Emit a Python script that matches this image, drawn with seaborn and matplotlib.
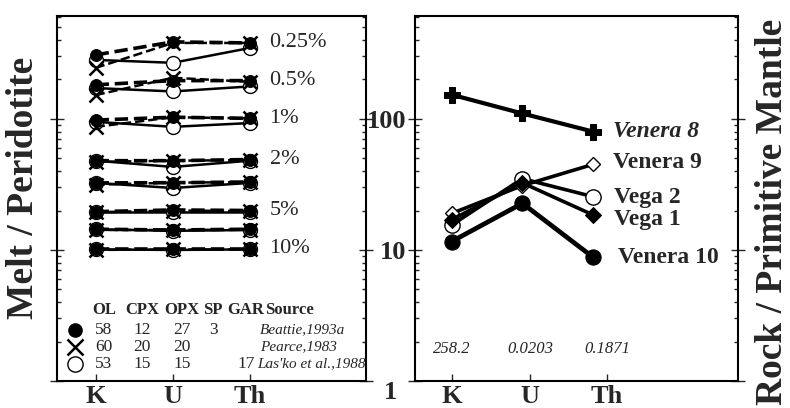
import matplotlib
matplotlib.use("Agg")
import matplotlib.pyplot as plt
import seaborn as sns
import pandas as pd
from matplotlib.ticker import LogLocator, NullFormatter, FixedLocator, FuncFormatter

sns.set_style("ticks")
plt.rcParams['font.family'] = ['Liberation Serif', 'DejaVu Serif']

# ---------------- data ----------------
elements = ["K", "U", "Th"]
melt_degrees = ["0.25%", "0.5%", "1%", "2%", "3%", "5%", "7%", "10%"]
melt_shown = ["0.25%", "0.5%", "1%", "2%", "5%", "10%"]

# Melt / Peridotite for each melting degree (rows) at K, U, Th
beattie = [[308, 387, 380], [182, 196, 196], [98, 103, 101], [48, 48, 49],
           [32.5, 32.6, 33], [19.6, 20.2, 20], [14.4, 14.2, 14.4], [10.2, 10.2, 10.2]]
pearce = [[245, 380, 380], [152, 206, 192], [87, 103, 101], [47, 48, 48.5],
          [31.5, 32.6, 33], [19.4, 20, 19.8], [14.2, 14.2, 14.3], [10, 10.1, 10.1]]
lasko = [[282, 268, 348], [172, 162, 177], [95, 87, 93], [48, 43, 48],
         [32.5, 29.7, 32.5], [19.6, 19.6, 19.6], [14.4, 14.0, 14.2], [10.1, 10, 10.1]]

table_header = ["OL", "CPX", "OPX", "SP", "GAR", "Source"]
beattie_mode = ["58", "12", "27", "3", ""]
pearce_mode = ["60", "20", "20", "", ""]
lasko_mode = ["53", "15", "15", "", "17"]
sources = ["Beattie,1993a", "Pearce,1983", "Las'ko et al.,1988"]

# Rock / Primitive Mantle
samples = ["Venera 8", "Venera 9", "Vega 2", "Vega 1", "Venera 10"]
venera8 = [153, 110, 80]
venera9 = [19, 31, 45]
vega2 = [15.5, 35, 25.5]
vega1 = [17, 32.5, 18.5]
venera10 = [11.6, 22.7, 8.8]
pm_values = ["258.2", "0.0203", "0.1871"]

# ---------------- figure ----------------
W, H = 790, 408
fig = plt.figure(figsize=(W / 100, H / 100), dpi=100)
ax1 = fig.add_axes([57 / W, 27 / H, 309 / W, 365 / H])
ax2 = fig.add_axes([415 / W, 27 / H, 323 / W, 365 / H])

xpos = list(range(len(elements)))

# left panel
st_beattie = dict(marker="o", mfc="black", mec="black", ms=8.5, ls="--", lw=2.6, color="black")
st_pearce = dict(marker="x", mfc="none", mec="black", ms=10, mew=1.8, ls="--", lw=1.8, color="black")
st_lasko = dict(marker="o", mfc="white", mec="black", ms=10, mew=1.0, ls="-", lw=1.8, color="black")
for series, st in zip([lasko, pearce, beattie], [st_lasko, st_pearce, st_beattie]):
    for row in series:
        df = pd.DataFrame({"x": xpos, "y": row})
        sns.lineplot(data=df, x="x", y="y", ax=ax1, **st)

for lab in melt_shown:
    i = melt_degrees.index(lab)
    yv = max(beattie[i][2], pearce[i][2], lasko[i][2])
    ax1.annotate(lab, (xpos[-1], yv), xytext=(14, 0), textcoords="offset points",
                 fontsize=16, va="center", ha="left")

# legend table (axes-fraction helpers from pixel layout)
def fx(px):
    return (px - 57) / 309

def fy(py):
    return (381 - py) / 365

col_x = [104, 142, 182, 213, 246]
for h, x in zip(table_header[:5], col_x):
    ax1.text(fx(x), fy(310), h, transform=ax1.transAxes, ha="center", va="center",
             fontsize=12, fontweight="bold")
ax1.text(fx(265), fy(310), table_header[5], transform=ax1.transAxes, ha="left",
         va="center", fontsize=12, fontweight="bold")
row_y = [330, 347, 364]
src_x = [260, 260, 257]
legend_markers = [st_beattie, st_pearce, st_lasko]
for mode, src, ry, sx, st in zip([beattie_mode, pearce_mode, lasko_mode], sources,
                                 row_y, src_x, legend_markers):
    ax1.plot([fx(75)], [fy(ry)], transform=ax1.transAxes, clip_on=False,
             marker=st["marker"], mfc=st["mfc"], mec="black",
             ms=st["ms"] + 1, mew=st.get("mew", 1.0), ls="none")
    for val, x in zip(mode, col_x):
        if val:
            ax1.text(fx(x), fy(ry), val, transform=ax1.transAxes, ha="center",
                     va="center", fontsize=12.5)
    ax1.text(fx(sx), fy(ry), src, transform=ax1.transAxes, ha="left", va="center",
             fontsize=11, style="italic", clip_on=True)

# right panel
venus_series = [venera8, venera9, vega2, vega1, venera10]
venus_styles = [
    dict(marker="P", mfc="black", mec="black", ms=11, lw=3.0),
    dict(marker="D", mfc="white", mec="black", ms=7, mew=1.0, lw=2.6),
    dict(marker="o", mfc="white", mec="black", ms=11, mew=1.0, lw=2.6),
    dict(marker="D", mfc="black", mec="black", ms=8, lw=2.6),
    dict(marker="o", mfc="black", mec="black", ms=11, lw=3.4),
]
label_style = ["italic", "normal", "normal", "normal", "normal"]
label_shift = [1.0, 1.04, 0.98, 0.92, 1.0]
label_dx = [14, 14, 15, 15, 18]
for name, vals, st, lst, sh, dx in zip(samples, venus_series, venus_styles,
                                       label_style, label_shift, label_dx):
    df = pd.DataFrame({"x": xpos, "y": vals})
    sns.lineplot(data=df, x="x", y="y", ax=ax2, color="black", ls="-", **st)
    ax2.annotate(name, (xpos[-1], vals[-1] * sh), xytext=(dx, 0),
                 textcoords="offset points", fontsize=17, fontweight="bold",
                 style=lst, va="center", ha="left")

# ---------------- axes styling ----------------
for ax in (ax1, ax2):
    ax.set_yscale("log")
    ax.set_ylim(1, 610)
    ax.set_xlabel("")
    ax.set_ylabel("")
    for sp in ax.spines.values():
        sp.set_visible(True)
        sp.set_linewidth(1.5)
        sp.set_color("black")
    ax.yaxis.set_major_locator(FixedLocator([1, 10, 100]))
    ax.yaxis.set_minor_locator(LogLocator(base=10, subs=range(2, 10)))
    ax.yaxis.set_minor_formatter(NullFormatter())
    ax.tick_params(axis="y", which="minor", direction="in", length=3, width=1,
                   left=True, right=True)
    ax.tick_params(axis="x", which="major", direction="in", length=5, width=1,
                   bottom=True, top=False, pad=3, labelsize=19)
    ax.set_facecolor("white")

ax1.set_xlim(-0.5, 3.5)
ax1.set_xticks(xpos)
ax1.set_xticklabels(elements, fontweight="bold")
ax1.tick_params(axis="y", which="major", direction="inout", length=10, width=1,
                left=True, right=True, labelleft=False, labelright=False)

ax2.set_xlim(-0.519, 4.05)
tick_pos = [0, 1.107, 2.197]
ax2.set_xticks(tick_pos)
ax2.set_xticklabels(elements, fontweight="bold")
ax2.tick_params(axis="y", which="major", direction="inout", length=10, width=1,
                left=True, right=True, labelleft=True, labelright=False, pad=1,
                labelsize=19)
ax2.yaxis.set_major_formatter(FuncFormatter(lambda v, p: "" if v == 1 else f"{v:g}"))
for t in ax2.get_yticklabels():
    t.set_fontweight("bold")
ax2.text(-0.075, 1, "1", transform=ax2.get_yaxis_transform(), ha="center", va="top",
         fontsize=19, fontweight="bold")
for tp, s in zip(tick_pos, pm_values):
    ax2.text(tp, fy(349), s, transform=ax2.get_xaxis_transform(), ha="center",
             va="center", fontsize=12, style="italic")

fig.text(24 / W, 1 - 188 / H, "Melt / Peridotite", rotation=90, ha="center",
         va="center", fontsize=27, fontweight="bold")
fig.text(773 / W, 1 - 212 / H, "Rock / Primitive Mantle", rotation=90, ha="center",
         va="center", fontsize=27, fontweight="bold")

fig.savefig("out.png", dpi=100, facecolor="white")
